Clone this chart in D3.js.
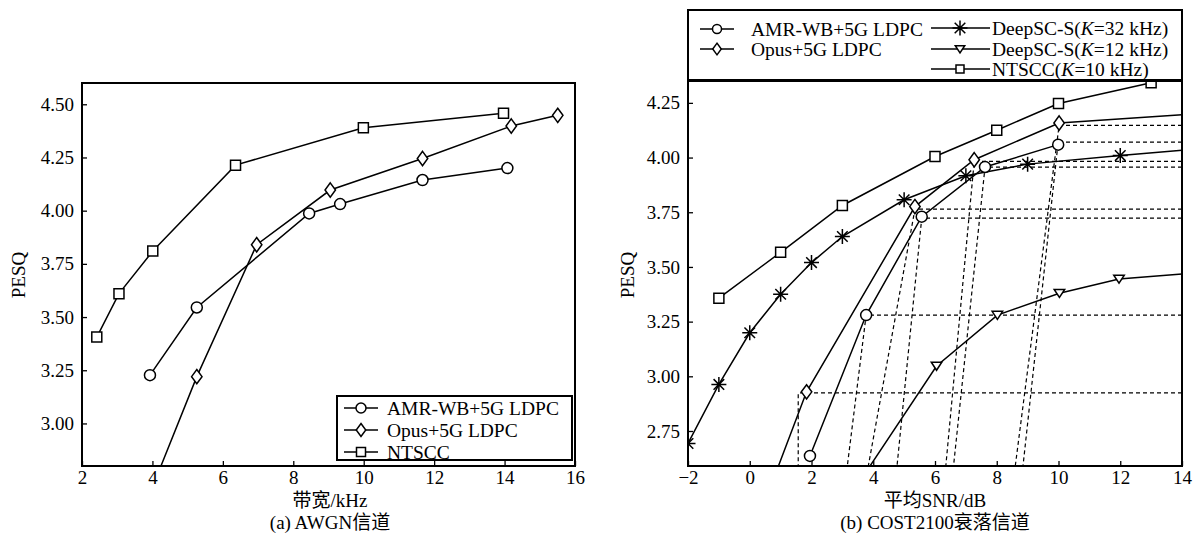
<!DOCTYPE html>
<html><head><meta charset="utf-8">
<script src="https://cdn.jsdelivr.net/npm/d3@7"></script>
<style>
body{margin:0;background:#fff}
text{font-family:"Liberation Serif","Times New Roman","Noto Sans CJK SC",serif;fill:#000}
</style></head>
<body><svg id="c" width="1198" height="540"></svg>
<script>
// ---------- Panel (a): AWGN ----------
const xTicksA = [2,4,6,8,10,12,14,16];
const yTicksA = [3.00,3.25,3.50,3.75,4.00,4.25,4.50];
const bwAMR   = [3.93, 5.26, 8.45, 9.33, 11.67, 14.08];
const pesqAMRa = [3.227, 3.545, 3.987, 4.031, 4.144, 4.20];
const bwOpus  = [4.0, 5.26, 6.96, 9.05, 11.67, 14.19, 15.51];
const pesqOpusA = [2.70, 3.22, 3.84, 4.097, 4.245, 4.398, 4.448];
const bwNTSCC = [2.42, 3.05, 4.01, 6.36, 9.99, 13.97];
const pesqNTSCCa = [3.406, 3.61, 3.81, 4.214, 4.39, 4.458];
const legendA = ["AMR-WB+5G LDPC","Opus+5G LDPC","NTSCC"];

// ---------- Panel (b): COST2100 ----------
const xTicksB = [-2,0,2,4,6,8,10,12,14];
const yTicksB = [2.75,3.00,3.25,3.50,3.75,4.00,4.25];
const snrAMR  = [1.95, 3.77, 5.57, 7.62, 9.99];
const pesqAMRb = [2.636, 3.28, 3.73, 3.957, 4.059];
const snrOpus = [0.5, 1.84, 5.35, 7.27, 10.02];
const pesqOpusB = [2.43, 2.929, 3.776, 3.99, 4.158];
const snrDeep32 = [-2, -1, 0, 1, 2, 3, 5, 7, 9, 12];
const pesqDeep32 = [2.693, 2.963, 3.199, 3.375, 3.52, 3.639, 3.807, 3.917, 3.97, 4.009];
const snrDeep12 = [3.0, 6.05, 8.02, 10.03, 11.96];
const pesqDeep12 = [2.40, 3.047, 3.28, 3.38, 3.445];
const snrNTSCC = [-1, 1, 3, 6, 8, 10, 13];
const pesqNTSCCb = [3.357, 3.567, 3.781, 4.005, 4.125, 4.247, 4.342];
// line continuations to the right border (no marker)
const tailOpusB = [14, 4.196];
const tailDeep32 = [14, 4.033];
const tailDeep12 = [14, 3.468];
// dashed guides: corner (x,y) -> horizontal to right border, slanted down to bottom at guideBottomX
const guideTopX = [1.57, 3.77, 5.35, 5.57, 7.27, 7.62, 10.02, 9.99];
const guideTopY = [2.924, 3.28, 3.764, 3.723, 3.983, 3.956, 4.147, 4.071];
const guideBottomX = [1.57, 3.16, 3.84, 4.77, 6.35, 6.6, 8.6, 8.85];
const legendB1 = ["AMR-WB+5G LDPC","Opus+5G LDPC"];

const svg = d3.select("#c");
const FONT = 19;

// marker shapes
function markerPath(type, s){
  const p = d3.path();
  if(type==="circle"){ p.arc(0,0,s,0,2*Math.PI); }
  else if(type==="square"){ p.rect(-s,-s,2*s,2*s); }
  else if(type==="diamond"){ p.moveTo(0,-s*1.3); p.lineTo(s*0.95,0); p.lineTo(0,s*1.3); p.lineTo(-s*0.95,0); p.closePath(); }
  else if(type==="tri"){ p.moveTo(-s*1.05,-s*0.75); p.lineTo(s*1.05,-s*0.75); p.lineTo(0,s*0.85); p.closePath(); }
  else if(type==="star"){
    for(let k=0;k<4;k++){ const a=k*Math.PI/4; p.moveTo(-s*Math.sin(a)*1.5,-s*Math.cos(a)*1.5); p.lineTo(s*Math.sin(a)*1.5,s*Math.cos(a)*1.5); }
  }
  return p.toString();
}

function frameAxes(g, x, y, xt, yt, xfmt, yfmt, id){
  const [x0,x1]=x.range(), [y0,y1]=y.range();
  g.append("clipPath").attr("id",id).append("rect").attr("x",x0).attr("y",y1).attr("width",x1-x0).attr("height",y0-y1);
  const ax = g.append("g").attr("transform",`translate(0,${y0})`)
    .call(d3.axisBottom(x).tickValues(xt).tickFormat(xfmt).tickSizeInner(-5).tickSizeOuter(0).tickPadding(5));
  const ay = g.append("g").attr("transform",`translate(${x0},0)`)
    .call(d3.axisLeft(y).tickValues(yt).tickFormat(yfmt).tickSizeInner(-5).tickSizeOuter(0).tickPadding(8));
  [ax,ay].forEach(a=>{ a.select(".domain").remove(); a.selectAll("line").attr("stroke","#000").attr("stroke-width",1.3);
    a.selectAll("text").attr("font-size",FONT).attr("font-family",'"Liberation Serif",serif').attr("fill","#000"); });
}

function drawSeries(g, x, y, xs, ys, type, s, tail, clip){
  const pts = xs.map((v,i)=>[x(v),y(ys[i])]);
  const lp = tail ? pts.concat([[x(tail[0]),y(tail[1])]]) : pts;
  const gg = g.append("g").attr("clip-path",`url(#${clip})`);
  gg.append("path").attr("d",d3.line()(lp)).attr("fill","none").attr("stroke","#000").attr("stroke-width",1.5);
  gg.selectAll("path.m").data(pts).enter().append("path").attr("class","m")
    .attr("transform",d=>`translate(${d[0]},${d[1]})`)
    .attr("d",markerPath(type,s)).attr("fill", type==="star"?"none":"#fff").attr("stroke","#000").attr("stroke-width",1.5);
}

function legendItem(g, x1, x2, xm, xt, yy, type, s, label){
  g.append("line").attr("x1",x1).attr("x2",x2).attr("y1",yy).attr("y2",yy).attr("stroke","#000").attr("stroke-width",1.5);
  g.append("path").attr("transform",`translate(${xm},${yy})`).attr("d",markerPath(type,s))
    .attr("fill",type==="star"?"none":"#fff").attr("stroke","#000").attr("stroke-width",1.5);
  const t = g.append("text").attr("x",xt).attr("y",yy).attr("dy","0.35em").attr("font-size",19.5);
  if(Array.isArray(label)) label.forEach(p=>t.append("tspan").attr("font-style",p[1]?"italic":null).text(p[0]));
  else t.text(label);
}

// ===== Panel (a) =====
{
  const g = svg.append("g");
  const x = d3.scaleLinear().domain([2,16]).range([82,575]);
  const y = d3.scaleLinear().domain([2.8,4.6]).range([466,83]);
  frameAxes(g, x, y, xTicksA, yTicksA, d3.format("d"), d3.format(".2f"), "clipA");
  drawSeries(g, x, y, bwAMR, pesqAMRa, "circle", 5.5, null, "clipA");
  drawSeries(g, x, y, bwOpus, pesqOpusA, "diamond", 5.5, null, "clipA");
  drawSeries(g, x, y, bwNTSCC, pesqNTSCCa, "square", 5, null, "clipA");
  g.append("rect").attr("x",82).attr("y",83).attr("width",575-82).attr("height",466-83)
    .attr("fill","none").attr("stroke","#000").attr("stroke-width",2);
  // legend
  const lg = g.append("g");
  lg.append("rect").attr("x",337).attr("y",396).attr("width",235).attr("height",64)
    .attr("fill","#fff").attr("stroke","#000").attr("stroke-width",2);
  const types = ["circle","diamond","square"], sz=[5,5,4.5];
  legendA.forEach((l,i)=>legendItem(lg,344,378,361,387,408+i*22,types[i],sz[i],l));
  g.append("text").attr("transform","translate(18,275) rotate(-90)").attr("text-anchor","middle")
    .attr("dy","0.35em").attr("font-size",FONT).text("PESQ");
  g.append("text").attr("x",330).attr("y",500).attr("dy","0.35em").attr("text-anchor","middle").attr("font-size",FONT).text("带宽/kHz");
  g.append("text").attr("x",330).attr("y",522).attr("dy","0.35em").attr("text-anchor","middle").attr("font-size",FONT).text("(a) AWGN信道");
}

// ===== Panel (b) =====
{
  const g = svg.append("g");
  const x = d3.scaleLinear().domain([-2,14]).range([688,1182]);
  const y = d3.scaleLinear().domain([2.59,4.35]).range([466,81]);
  frameAxes(g, x, y, xTicksB, yTicksB, d3.format("d"), d3.format(".2f"), "clipB");
  // dashed guides
  const gd = g.append("g").attr("clip-path","url(#clipB)").attr("stroke","#000").attr("stroke-width",1.2).attr("stroke-dasharray","4,3").attr("fill","none");
  guideTopX.forEach((tx,i)=>{
    gd.append("path").attr("d",d3.line()([[x(14),y(guideTopY[i])],[x(tx),y(guideTopY[i])],[x(guideBottomX[i]),y(2.59)]]));
  });
  drawSeries(g, x, y, snrNTSCC, pesqNTSCCb, "square", 5, null, "clipB");
  drawSeries(g, x, y, snrDeep12, pesqDeep12, "tri", 5, tailDeep12, "clipB");
  drawSeries(g, x, y, snrDeep32, pesqDeep32, "star", 5, tailDeep32, "clipB");
  drawSeries(g, x, y, snrAMR, pesqAMRb, "circle", 5.5, null, "clipB");
  drawSeries(g, x, y, snrOpus, pesqOpusB, "diamond", 5.5, tailOpusB, "clipB");
  g.append("rect").attr("x",688).attr("y",81).attr("width",1182-688).attr("height",466-81)
    .attr("fill","none").attr("stroke","#000").attr("stroke-width",2);
  // legend box above plot
  const lg = g.append("g");
  lg.append("rect").attr("x",688).attr("y",10).attr("width",1182-688).attr("height",70)
    .attr("fill","#fff").attr("stroke","#000").attr("stroke-width",2);
  lg.append("line").attr("x1",688).attr("x2",1182).attr("y1",80.5).attr("y2",80.5).attr("stroke","#000").attr("stroke-width",3);
  legendItem(lg,700,734,717,751,29,"circle",4.5,legendB1[0]);
  legendItem(lg,700,734,717,751,49,"diamond",4.5,legendB1[1]);
  legendItem(lg,931,990,960,992,28,"star",5,[["DeepSC-S("],["K",1],["=32 kHz)"]]);
  legendItem(lg,931,990,960,992,49,"tri",4.5,[["DeepSC-S("],["K",1],["=12 kHz)"]]);
  legendItem(lg,931,990,960,992,69,"square",4,[["NTSCC("],["K",1],["=10 kHz)"]]);
  g.append("text").attr("transform","translate(627,275) rotate(-90)").attr("text-anchor","middle")
    .attr("dy","0.35em").attr("font-size",FONT).text("PESQ");
  g.append("text").attr("x",935).attr("y",500).attr("dy","0.35em").attr("text-anchor","middle").attr("font-size",FONT).text("平均SNR/dB");
  g.append("text").attr("x",935).attr("y",522).attr("dy","0.35em").attr("text-anchor","middle").attr("font-size",FONT).text("(b) COST2100衰落信道");
}
</script></body></html>
